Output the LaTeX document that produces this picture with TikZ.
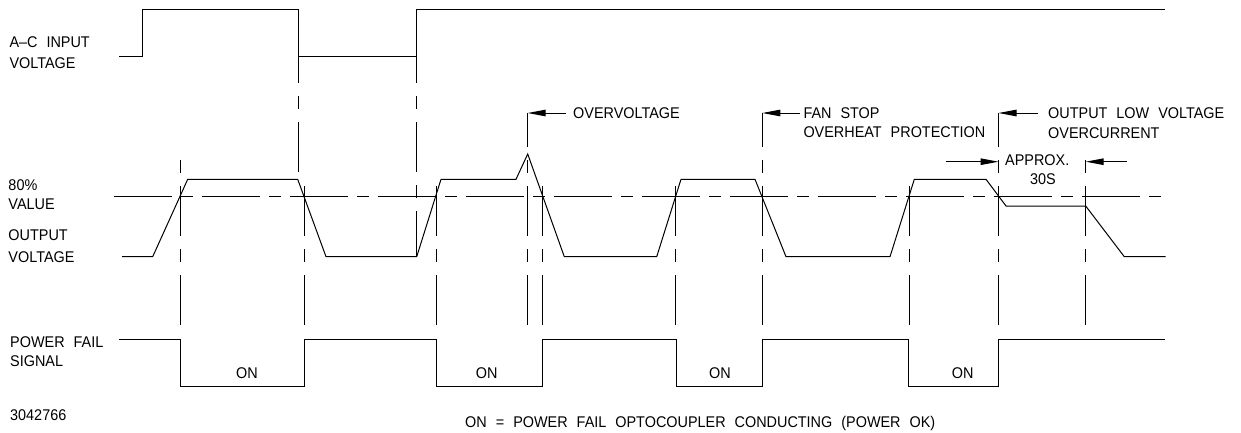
\documentclass[tikz,border=0pt]{standalone}
\usepackage{fontspec}
\setmainfont{Liberation Sans}[FakeStretch=0.93, WordSpace=2.25]
\usetikzlibrary{arrows.meta}
\tikzset{
  wave/.style={line width=1pt, line join=miter},
  guide/.style={line width=1pt, dash pattern=on 50pt off 13pt on 13pt off 13pt},
  refline/.style={line width=1pt, dash pattern=on 58pt off 9pt on 12pt off 9pt},
  callout/.style={line width=1pt, -{Triangle[length=18pt,width=6.5pt]}},
  lbl/.style={font=\fontsize{15.5}{18}\selectfont, inner sep=0pt, anchor=base west},
  clbl/.style={font=\fontsize{15.5}{18}\selectfont, inner sep=0pt, anchor=base},
}
\begin{document}
\begin{tikzpicture}[x=1pt,y=-1pt]
\useasboundingbox (0,0) rectangle (1241,432);

% ---- labels on the left
\node[lbl] (ac1) at (9.3,47.2) {A--C INPUT};
\node[lbl] (ac2) at (9.3,68.9) {VOLTAGE};
\node[lbl] (p80) at (8.3,190.5) {80\%};
\node[lbl] (val) at (8.3,209.5) {VALUE};
\node[lbl] (ov1) at (8.3,240.5) {OUTPUT};
\node[lbl] (ov2) at (8.3,262.2) {VOLTAGE};
\node[lbl] (pf1) at (10,347.2) {POWER FAIL};
\node[lbl] (pf2) at (10,366.2) {SIGNAL};
\node[lbl] (num) at (10,420.5) {3042766};

% ---- A-C input voltage
\draw[wave] (119,56) -- (142.5,56) -- (142.5,9.3) -- (298,9.3) -- (298,56)
  -- (416,56) -- (416,9.3) -- (1165,9.3);

% ---- 80% reference line
\draw[refline] (114,196) -- (1168,196);

% ---- output voltage
\draw[wave] (122,256.7) -- (152.7,256.7) -- (187.7,179.3) -- (297.7,179.3)
  -- (326,256.7) -- (416.7,256.7) -- (441,179.3) -- (516,179.3)
  -- (527.7,154) -- (564.3,256.7) -- (656.7,256.7) -- (681,179.3)
  -- (755,179.3) -- (786,256.7) -- (890,256.7) -- (914.3,179.3)
  -- (986,179.3) -- (1006,206) -- (1085.7,206) -- (1124.3,256.7)
  -- (1165.7,256.7);

% ---- power fail signal
\draw[wave] (119,339.3) -- (180,339.3) -- (180,386) -- (304,386) -- (304,339.3)
  -- (436,339.3) -- (436,386) -- (542.7,386) -- (542.7,339.3)
  -- (676,339.3) -- (676,386) -- (762.3,386) -- (762.3,339.3)
  -- (908.3,339.3) -- (908.3,386) -- (998.3,386) -- (998.3,339.3)
  -- (1165,339.3);

% ---- vertical guide lines (from the A-C edges, drawn downwards)
\draw[guide, dash phase=23pt] (298,56) -- (298,177);
\draw[guide, dash phase=23pt] (416,56) -- (416,257);
% ---- vertical guide lines (drawn upwards from the power fail signal)
\draw[guide] (180,325) -- (180,157);
\draw[guide] (304,325) -- (304,173);
\draw[guide] (436,325) -- (436,173);
\draw[guide] (542.7,325) -- (542.7,173);
\draw[guide] (675.5,325) -- (675.5,173);
\draw[guide] (909,325) -- (909,173);
\draw[guide] (527.7,325) -- (527.7,113);
\draw[guide] (762.3,325) -- (762.3,113);
\draw[guide] (998.5,325) -- (998.5,113);
\draw[guide] (1085.7,325) -- (1085.7,157);

% ---- callouts
\coordinate (ovT) at (565.7,113);  \coordinate (ovH) at (527.7,113);
\coordinate (fsT) at (800,113);    \coordinate (fsH) at (762.3,113);
\coordinate (olT) at (1038,113);   \coordinate (olH) at (998.5,113);
\coordinate (a1T) at (945.7,161.7); \coordinate (a1H) at (998.5,161.7);
\coordinate (a2T) at (1126.7,161.7); \coordinate (a2H) at (1085.7,161.7);
\draw[callout] (ovT) -- (ovH);
\draw[callout] (fsT) -- (fsH);
\draw[callout] (olT) -- (olH);
\draw[callout] (a1T) -- (a1H);
\draw[callout] (a2T) -- (a2H);

\node[lbl] (ovtxt) at (573,118.5) {OVERVOLTAGE};
\node[lbl] (fs1) at (803.3,118.2) {FAN STOP};
\node[lbl] (fs2) at (803.3,137.8) {OVERHEAT PROTECTION};
\node[lbl] (ol1) at (1048,118.2) {OUTPUT LOW VOLTAGE};
\node[lbl] (ol2) at (1048,138.5) {OVERCURRENT};
\node[lbl] (apx) at (1005,165.5) {APPROX.};
\node[clbl] (s30) at (1043,184.8) {30S};

% ---- ON labels
\node[clbl] (on1) at (247,378.2) {ON};
\node[clbl] (on2) at (486.7,378.2) {ON};
\node[clbl] (on3) at (720,378.2) {ON};
\node[clbl] (on4) at (962.7,378.2) {ON};

\node[lbl] (note) at (465,427.2) {ON = POWER FAIL OPTOCOUPLER CONDUCTING (POWER OK)};
\end{tikzpicture}
\end{document}
